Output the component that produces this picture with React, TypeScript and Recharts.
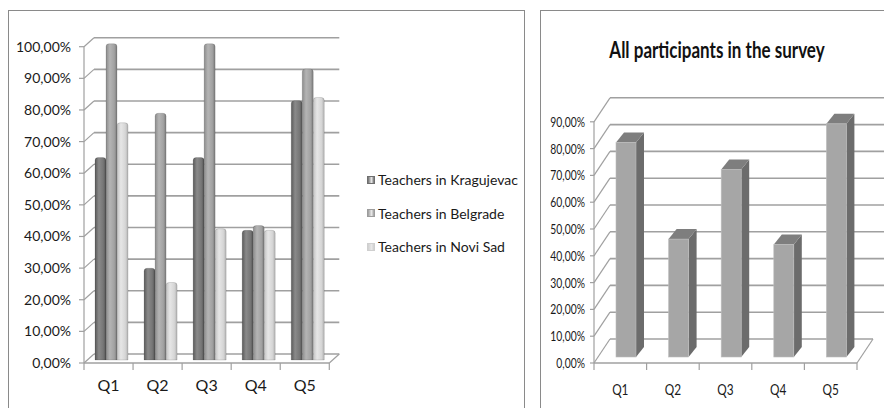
import React from "react";
import { BarChart, Bar, XAxis, YAxis, CartesianGrid, Legend } from "recharts";

const categories = ["Q1", "Q2", "Q3", "Q4", "Q5"];
const kragujevac = [0.64, 0.29, 0.64, 0.41, 0.82];
const belgrade = [1.0, 0.78, 1.0, 0.425, 0.92];
const noviSad = [0.75, 0.245, 0.415, 0.41, 0.83];
const allParticipants = [0.8, 0.44, 0.7, 0.42, 0.87];
const leftTicks = [0, 0.1, 0.2, 0.3, 0.4, 0.5, 0.6, 0.7, 0.8, 0.9, 1];
const rightTicks = [0, 0.1, 0.2, 0.3, 0.4, 0.5, 0.6, 0.7, 0.8, 0.9];
const seriesNames = ["Teachers in Kragujevac", "Teachers in Belgrade", "Teachers in Novi Sad"];
const chartTitle = "All participants in the survey";

const teacherData = categories.map((q, i) => ({
  q,
  krag: kragujevac[i],
  belg: belgrade[i],
  ns: noviSad[i],
}));
const allData = categories.map((q, i) => ({ q, all: allParticipants[i] }));

const FONT = "Lato, 'Open Sans', sans-serif";
const GRID = "#a0a0a0";
const CH_H = 396;
const X_H = 30;
const M_BOTTOM = 14;
const PLOT_BOTTOM = CH_H - M_BOTTOM - X_H;

const pct = (v: number) => `${(v * 100).toFixed(2).replace(".", ",")}%`;

// excel-ish 3d walls: every gridline gets pushed back and joined to the front axis
const depthGrid = (dx: number, dy: number, extra: number) => (p: any) => {
  const { x1, x2, y1, index } = p;
  const isFloor = Math.abs(y1 - PLOT_BOTTOM) < 0.5;
  return (
    <g key={`gl-${index}`}>
      <line x1={x1} y1={y1} x2={x1 + dx} y2={y1 + dy} stroke={GRID} strokeWidth={1.2} />
      <line
        x1={x1 + dx}
        y1={y1 + dy}
        x2={x2 + dx + (isFloor ? 0 : extra)}
        y2={y1 + dy}
        stroke={GRID}
        strokeWidth={1.6}
      />
      {isFloor && (
        <>
          <line x1={x1} y1={y1} x2={x2} y2={y1} stroke={GRID} strokeWidth={1.4} />
          <line x1={x2} y1={y1} x2={x2 + dx} y2={y1 + dy} stroke={GRID} strokeWidth={1.2} />
        </>
      )}
    </g>
  );
};

const CatTick = (squeeze: number, labelDy: number, size: number) => (p: any) => {
  const { x, y, payload, index, visibleTicksCount } = p;
  const half = payload.offset ?? 0;
  return (
    <g>
      <line x1={x - half} y1={y} x2={x - half} y2={y + 7} stroke={GRID} strokeWidth={1.2} />
      {index === visibleTicksCount - 1 && (
        <line x1={x + half} y1={y} x2={x + half} y2={y + 7} stroke={GRID} strokeWidth={1.2} />
      )}
      <text
        transform={`translate(${x},${y + labelDy}) scale(${squeeze},1)`}
        textAnchor="middle"
        fontSize={size}
        fontFamily={FONT}
        fill="#1a1a1a"
      >
        {payload.value}
      </text>
    </g>
  );
};

const NarrowYTick = (p: any) => {
  const { x, y, payload } = p;
  return (
    <text
      transform={`translate(${x},${y + 5}) scale(0.74,1)`}
      textAnchor="end"
      fontSize={14}
      fontFamily={FONT}
      fill="#1a1a1a"
    >
      {pct(payload.value)}
    </text>
  );
};

const CylBar = (gid: string) => (p: any) => {
  const { x, y, width, height } = p;
  if (!height || height <= 0) return <g />;
  const bx = x + 3.5;
  const by = y - 3;
  const r = Math.min(3, width / 2);
  const d = `M${bx},${by + height} L${bx},${by + r} Q${bx},${by} ${bx + r},${by} L${bx + width - r},${by} Q${bx + width},${by} ${bx + width},${by + r} L${bx + width},${by + height} Z`;
  return <path d={d} fill={`url(#${gid})`} stroke="rgba(0,0,0,0.22)" strokeWidth={0.6} />;
};

const BoxBar = (p: any) => {
  const { x, y, width, height } = p;
  if (!height || height <= 0) return <g />;
  const fx = x + 6;
  const fy = y - 6;
  const dx = 8;
  const dy = -10;
  const side = `${fx + width},${fy} ${fx + width + dx},${fy + dy} ${fx + width + dx},${fy + dy + height} ${fx + width},${fy + height}`;
  const top = `${fx},${fy} ${fx + dx},${fy + dy} ${fx + width + dx},${fy + dy} ${fx + width},${fy}`;
  return (
    <g>
      <polygon points={side} fill="#6c6c6c" />
      <polygon points={top} fill="#7e7e7e" />
      <rect x={fx} y={fy} width={width} height={height} fill="#a6a6a6" stroke="#bdbdbd" strokeWidth={0.6} />
    </g>
  );
};

const TeacherLegend = (props: any) => {
  const items = [...(props.payload || [])].sort(
    (a: any, b: any) => seriesNames.indexOf(a.value) - seriesNames.indexOf(b.value)
  );
  return (
    <div style={{ fontFamily: FONT, fontSize: 14, color: "#1a1a1a" }}>
      {items.map((entry: any, i: number) => (
        <div key={i} style={{ display: "flex", alignItems: "center", height: 33.5 }}>
          <span
            style={{
              width: 8,
              height: 8,
              marginRight: 3,
              background: `linear-gradient(90deg, ${entry.color}, #e8e8e8 60%, ${entry.color})`,
              border: `1px solid ${entry.color}`,
              boxSizing: "border-box",
            }}
          />
          <span>{entry.value}</span>
        </div>
      ))}
    </div>
  );
};

export default function App() {
  return (
    <div
      style={{
        position: "absolute",
        left: 0,
        top: 0,
        width: 884,
        height: 408,
        background: "#fff",
        overflow: "hidden",
      }}
    >
      <div
        style={{
          position: "absolute",
          left: 8,
          top: 10,
          width: 517,
          height: 420,
          border: "1px solid #8a8a8a",
          boxSizing: "border-box",
        }}
      >
        <BarChart
          width={515}
          height={CH_H}
          data={teacherData}
          margin={{ top: 35.7, right: 194.7, bottom: M_BOTTOM, left: 0 }}
          barCategoryGap="15.3%"
          barGap={0}
        >
          <defs>
            <linearGradient id="gKrag" x1="0" y1="0" x2="1" y2="0">
              <stop offset="0" stopColor="#5a5a5a" />
              <stop offset="0.35" stopColor="#8a8a8a" />
              <stop offset="0.75" stopColor="#767676" />
              <stop offset="1" stopColor="#555555" />
            </linearGradient>
            <linearGradient id="gBelg" x1="0" y1="0" x2="1" y2="0">
              <stop offset="0" stopColor="#8c8c8c" />
              <stop offset="0.35" stopColor="#b4b4b4" />
              <stop offset="0.75" stopColor="#a2a2a2" />
              <stop offset="1" stopColor="#7c7c7c" />
            </linearGradient>
            <linearGradient id="gNs" x1="0" y1="0" x2="1" y2="0">
              <stop offset="0" stopColor="#c2c2c2" />
              <stop offset="0.35" stopColor="#e6e6e6" />
              <stop offset="0.75" stopColor="#d6d6d6" />
              <stop offset="1" stopColor="#b4b4b4" />
            </linearGradient>
          </defs>
          <CartesianGrid horizontal={depthGrid(10, -9, 0)} vertical={false} />
          <XAxis
            dataKey="q"
            height={X_H}
            axisLine={false}
            tickLine={false}
            tickSize={0}
            tickMargin={0}
            interval={0}
            tick={CatTick(1, 28, 16)}
          />
          <YAxis
            width={75}
            domain={[0, 1]}
            ticks={leftTicks}
            tickFormatter={pct}
            interval={0}
            axisLine={{ stroke: GRID, strokeWidth: 1.2 }}
            tickLine={{ stroke: GRID, strokeWidth: 1.2 }}
            tickSize={5}
            tickMargin={8}
            tick={{ fontSize: 14, fill: "#1a1a1a", fontFamily: FONT }}
          />
          <Legend
            layout="vertical"
            align="center"
            verticalAlign="middle"
            content={TeacherLegend}
            wrapperStyle={{ left: 358, top: 152, width: 160 }}
          />
          <Bar dataKey="krag" name={seriesNames[0]} fill="#6e6e6e" shape={CylBar("gKrag")} isAnimationActive={false} />
          <Bar dataKey="belg" name={seriesNames[1]} fill="#9c9c9c" shape={CylBar("gBelg")} isAnimationActive={false} />
          <Bar dataKey="ns" name={seriesNames[2]} fill="#cfcfcf" shape={CylBar("gNs")} isAnimationActive={false} />
        </BarChart>
      </div>

      <div
        style={{
          position: "absolute",
          left: 540,
          top: 10,
          width: 360,
          height: 420,
          border: "1px solid #8a8a8a",
          boxSizing: "border-box",
        }}
      >
        <svg width={343} height={80} style={{ position: "absolute", left: 0, top: 0 }}>
          <text
            transform="translate(176,47) scale(0.74,1)"
            textAnchor="middle"
            fontSize={23}
            fontWeight="bold"
            fontFamily={FONT}
            fill="#111"
          >
            {chartTitle}
          </text>
        </svg>
        <BarChart
          width={343}
          height={CH_H}
          data={allData}
          margin={{ top: 110.8, right: 27, bottom: M_BOTTOM, left: 0 }}
          barSize={20}
        >
          <CartesianGrid horizontal={depthGrid(16, -24, 14)} vertical={false} />
          <XAxis
            dataKey="q"
            height={X_H}
            axisLine={false}
            tickLine={false}
            tickSize={0}
            tickMargin={0}
            interval={0}
            tick={CatTick(0.74, 32, 16)}
          />
          <YAxis
            width={53}
            domain={[0, 0.9]}
            ticks={rightTicks}
            interval={0}
            axisLine={{ stroke: GRID, strokeWidth: 1.2 }}
            tickLine={{ stroke: GRID, strokeWidth: 1.2 }}
            tickSize={4}
            tickMargin={5}
            tick={NarrowYTick}
          />
          <Bar dataKey="all" name={chartTitle} fill="#a6a6a6" shape={BoxBar} isAnimationActive={false} />
        </BarChart>
      </div>
    </div>
  );
}
